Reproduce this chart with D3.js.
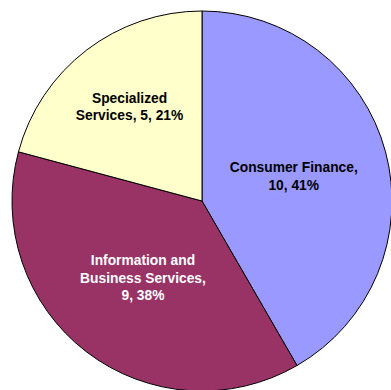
<!DOCTYPE html>
<html>
<head>
<meta charset="utf-8">
<script src="https://cdn.jsdelivr.net/npm/d3@7"></script>
<style>
  html, body { margin: 0; padding: 0; background: #ffffff; overflow: hidden; }
  svg { display: block; }
</style>
</head>
<body>
<svg id="chart" width="391" height="390"></svg>
<script>
// Segment data
const categories = ["Consumer Finance", "Information and Business Services", "Specialized Services"];
const values = [10, 9, 5];
const percentLabels = ["41%", "38%", "21%"];
// Label text broken into lines as displayed inside each slice
const labelLines = [
  ["Consumer Finance,", "10, " + percentLabels[0]],
  ["Information and", "Business Services,", "9, " + percentLabels[1]],
  ["Specialized", "Services, 5, " + percentLabels[2]]
];

const colors = ["#9999ff", "#993366", "#ffffcc"];
const textColors = ["#000000", "#ffffff", "#000000"];
// Distance of each label block centre from the pie centre
const labelRadius = [95, 97, 119];

const width = 391, height = 390;
const cx = 202, cy = 201, radius = 190;

const svg = d3.select("#chart");
const g = svg.append("g").attr("transform", `translate(${cx},${cy})`);

const slices = categories.map((c, i) => ({ name: c, value: values[i], index: i }));

const pie = d3.pie()
  .value(d => d.value)
  .sort(null)
  .startAngle(0)
  .endAngle(2 * Math.PI);

const arc = d3.arc().innerRadius(0).outerRadius(radius);

const arcs = pie(slices);

g.selectAll("path.slice")
  .data(arcs)
  .join("path")
  .attr("class", "slice")
  .attr("d", arc)
  .attr("fill", d => colors[d.data.index])
  .attr("stroke", "#000000")
  .attr("stroke-width", 1)
  .attr("stroke-linejoin", "round");

const fontSize = 13.8;
const lineHeight = 17.3;

g.selectAll("text.label")
  .data(arcs)
  .join("text")
  .attr("class", "label")
  .attr("text-anchor", "middle")
  .attr("font-family", "'Liberation Sans', Arial, Helvetica, sans-serif")
  .attr("font-weight", "bold")
  .attr("font-size", fontSize)
  .attr("fill", d => textColors[d.data.index])
  .each(function (d) {
    const i = d.data.index;
    const c = d3.arc().innerRadius(labelRadius[i]).outerRadius(labelRadius[i]).centroid(d);
    const lines = labelLines[i];
    const n = lines.length;
    // vertically centre the block of lines on the centroid
    const firstBaseline = c[1] - (n - 1) * lineHeight / 2 + fontSize * 0.34;
    d3.select(this).selectAll("tspan")
      .data(lines)
      .join("tspan")
      .attr("x", c[0])
      .attr("y", (t, k) => firstBaseline + k * lineHeight)
      .text(t => t);
  });
</script>
</body>
</html>
